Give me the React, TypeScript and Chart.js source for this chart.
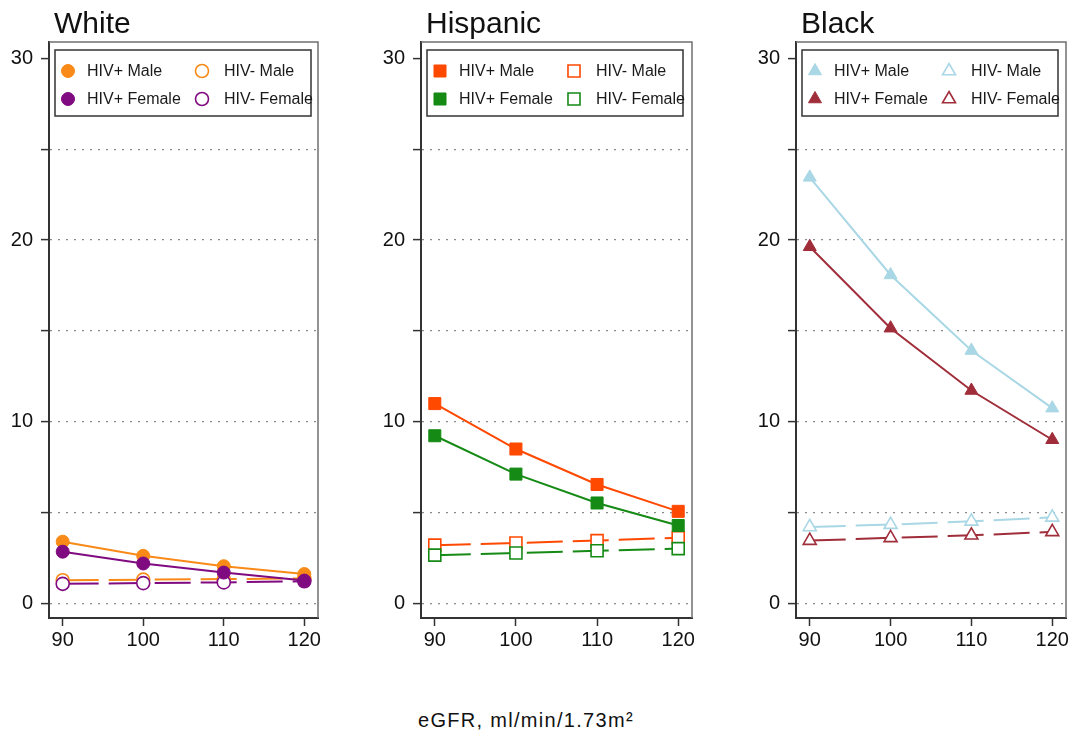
import React, { useEffect, useRef } from 'react';
import { Chart, registerables } from 'chart.js';

Chart.register(...registerables);

// ---------- data ----------
const egfr = [90, 100, 110, 120];
const xTickValues = [90, 100, 110, 120];
const yTickValues = [0, 5, 10, 15, 20, 25, 30];
const yLabelValues = [0, 10, 20, 30];

const seriesLabels = ['HIV+ Male', 'HIV+ Female', 'HIV- Male', 'HIV- Female'];
const panelTitles = ['White', 'Hispanic', 'Black'];
const xAxisTitle = 'eGFR, ml/min/1.73m²';

const whiteHivPosMale = [3.4, 2.62, 2.05, 1.62];
const whiteHivPosFemale = [2.85, 2.2, 1.7, 1.26];
const whiteHivNegMale = [1.28, 1.31, 1.34, 1.38];
const whiteHivNegFemale = [1.08, 1.12, 1.16, 1.22];

const hispHivPosMale = [11.0, 8.5, 6.55, 5.07];
const hispHivPosFemale = [9.23, 7.12, 5.53, 4.29];
const hispHivNegMale = [3.21, 3.33, 3.46, 3.62];
const hispHivNegFemale = [2.66, 2.78, 2.9, 3.02];

const blackHivPosMale = [23.45, 18.08, 13.92, 10.75];
const blackHivPosFemale = [19.63, 15.15, 11.72, 9.01];
const blackHivNegMale = [4.21, 4.34, 4.52, 4.74];
const blackHivNegFemale = [3.46, 3.61, 3.75, 3.94];

const FONT = '"Liberation Sans", Arial, Helvetica, sans-serif';

type PanelProps = {
  title: string;
  marker: 'circle' | 'rect' | 'triangle';
  maleColor: string;
  femaleColor: string;
  values: number[][];
  left: number;
  width: number;
  padRight: number;
};

const markerRadius: Record<string, number> = { circle: 6.5, rect: 8.5, triangle: 7.5 };

function drawMarker(ctx: CanvasRenderingContext2D, style: string, x: number, y: number, r: number, color: string, open: boolean) {
  ctx.save();
  ctx.beginPath();
  if (style === 'circle') {
    ctx.arc(x, y, r, 0, Math.PI * 2);
  } else if (style === 'rect') {
    const s = r * Math.SQRT1_2;
    ctx.rect(x - s, y - s, 2 * s, 2 * s);
  } else {
    let rad = 0;
    ctx.moveTo(x + Math.sin(rad) * r, y - Math.cos(rad) * r);
    rad += (2 * Math.PI) / 3;
    ctx.lineTo(x + Math.sin(rad) * r, y - Math.cos(rad) * r);
    rad += (2 * Math.PI) / 3;
    ctx.lineTo(x + Math.sin(rad) * r, y - Math.cos(rad) * r);
    ctx.closePath();
  }
  ctx.fillStyle = open ? '#ffffff' : color;
  ctx.fill();
  ctx.lineWidth = open ? 1.6 : 1;
  ctx.strokeStyle = color;
  ctx.stroke();
  ctx.restore();
}

function Panel(props: PanelProps) {
  const ref = useRef<HTMLCanvasElement | null>(null);
  useEffect(() => {
    const canvas = ref.current;
    if (!canvas) return;
    const { title, marker, maleColor, femaleColor, values } = props;
    const colors = [maleColor, femaleColor, maleColor, femaleColor];
    const open = [false, false, true, true];
    const orders = [1, 0, 3, 2];
    const r = markerRadius[marker];

    const decor = {
      id: 'panelDecor',
      afterDraw(chart: any) {
        const ctx: CanvasRenderingContext2D = chart.ctx;
        const a = chart.chartArea;
        ctx.save();
        // frame top & right
        ctx.strokeStyle = '#6f6f6f';
        ctx.lineWidth = 1.5;
        ctx.beginPath();
        ctx.moveTo(a.left, a.top);
        ctx.lineTo(a.right, a.top);
        ctx.lineTo(a.right, a.bottom);
        ctx.stroke();
        // title
        ctx.fillStyle = '#111';
        ctx.font = `30px ${FONT}`;
        ctx.textBaseline = 'alphabetic';
        ctx.textAlign = 'left';
        ctx.fillText(title, a.left + 5, 33);
        // legend box
        const bx = a.left + 6;
        const by = a.top + 8;
        ctx.fillStyle = '#ffffff';
        ctx.fillRect(bx, by, 256, 66);
        ctx.strokeStyle = '#333';
        ctx.lineWidth = 1.5;
        ctx.strokeRect(bx, by, 256, 66);
        const cols = [
          { mx: a.left + 19, tx: a.left + 38 },
          { mx: a.left + 153, tx: a.left + 175 },
        ];
        const rows = [a.top + 29, a.top + 57];
        ctx.font = `16px ${FONT}`;
        ctx.textBaseline = 'middle';
        for (let i = 0; i < 4; i++) {
          const c = cols[i < 2 ? 0 : 1];
          const y = rows[i % 2];
          drawMarker(ctx, marker, c.mx, y, marker === 'circle' ? 6.5 : marker === 'rect' ? 8.5 : 7.5, colors[i], open[i]);
          ctx.fillStyle = '#1a1a1a';
          ctx.fillText(seriesLabels[i], c.tx, y + 1);
        }
        ctx.restore();
      },
    };

    const datasets = values.map((vals, i) => ({
      label: seriesLabels[i],
      data: egfr.map((x, j) => ({ x, y: vals[j] })),
      borderColor: colors[i],
      backgroundColor: colors[i],
      borderWidth: 2,
      borderDash: open[i] ? [36, 10] : [],
      pointStyle: marker,
      pointRadius: r,
      pointBackgroundColor: open[i] ? '#ffffff' : colors[i],
      pointBorderColor: colors[i],
      pointBorderWidth: open[i] ? 1.6 : 1,
      tension: 0,
      order: orders[i],
      clip: false as any,
    }));

    const chart = new Chart(canvas, {
      type: 'line',
      data: { datasets },
      options: {
        responsive: false,
        animation: false,
        devicePixelRatio: 1,
        layout: { padding: { top: 42, right: props.padRight, left: 0, bottom: 0 } },
        plugins: { legend: { display: false }, tooltip: { enabled: false }, title: { display: false } },
        scales: {
          x: {
            type: 'linear',
            min: 88.3,
            max: 121.7,
            afterBuildTicks: (s: any) => {
              s.ticks = xTickValues.map((v) => ({ value: v }));
            },
            afterFit: (s: any) => {
              s.height = 62;
            },
            ticks: {
              font: { family: FONT, size: 20 },
              color: '#111',
              padding: 2,
              maxRotation: 0,
              autoSkip: false,
              callback: (v: any) => String(v),
            },
            grid: { drawOnChartArea: false, drawTicks: true, tickLength: 8, tickColor: '#333', tickWidth: 1.5 },
            border: { display: true, color: '#333', width: 2 },
          },
          y: {
            type: 'linear',
            min: -0.8,
            max: 30.9,
            afterBuildTicks: (s: any) => {
              s.ticks = yTickValues.map((v) => ({ value: v }));
            },
            afterFit: (s: any) => {
              s.width = 49;
            },
            ticks: {
              font: { family: FONT, size: 20 },
              color: '#111',
              padding: 8,
              autoSkip: false,
              callback: (v: any) => (yLabelValues.includes(Number(v)) ? String(v) : ''),
            },
            grid: {
              drawOnChartArea: true,
              drawTicks: true,
              tickLength: 8,
              tickColor: '#333',
              tickWidth: 1.5,
              lineWidth: 1.2,
              color: (c: any) => (c.tick && c.tick.value === 30 ? 'rgba(0,0,0,0)' : '#8a8a8a'),
            },
            border: { display: true, color: '#333', width: 2, dash: [2, 6] },
          },
        },
      },
      plugins: [decor],
    } as any);
    return () => chart.destroy();
  }, []);
  return (
    <canvas
      ref={ref}
      width={props.width}
      height={680}
      style={{ position: 'absolute', left: props.left, top: 0, width: props.width, height: 680 }}
    />
  );
}

export default function App() {
  return (
    <div style={{ position: 'fixed', left: 0, top: 0, width: 1077, height: 734, background: '#fff', overflow: 'hidden' }}>
      <Panel
        title={panelTitles[0]}
        marker="circle"
        maleColor="#F98A17"
        femaleColor="#800A80"
        values={[whiteHivPosMale, whiteHivPosFemale, whiteHivNegMale, whiteHivNegFemale]}
        left={0}
        width={340}
        padRight={22}
      />
      <Panel
        title={panelTitles[1]}
        marker="rect"
        maleColor="#FF4800"
        femaleColor="#158A15"
        values={[hispHivPosMale, hispHivPosFemale, hispHivNegMale, hispHivNegFemale]}
        left={372}
        width={340}
        padRight={20}
      />
      <Panel
        title={panelTitles[2]}
        marker="triangle"
        maleColor="#A9D7E5"
        femaleColor="#A02E3A"
        values={[blackHivPosMale, blackHivPosFemale, blackHivNegMale, blackHivNegFemale]}
        left={747}
        width={330}
        padRight={11}
      />
      <div
        style={{
          position: 'absolute',
          left: 418,
          top: 709,
          fontFamily: FONT,
          fontSize: 20,
          lineHeight: '23px',
          letterSpacing: '1.3px',
          color: '#111',
          whiteSpace: 'nowrap',
        }}
      >
        {xAxisTitle}
      </div>
    </div>
  );
}
